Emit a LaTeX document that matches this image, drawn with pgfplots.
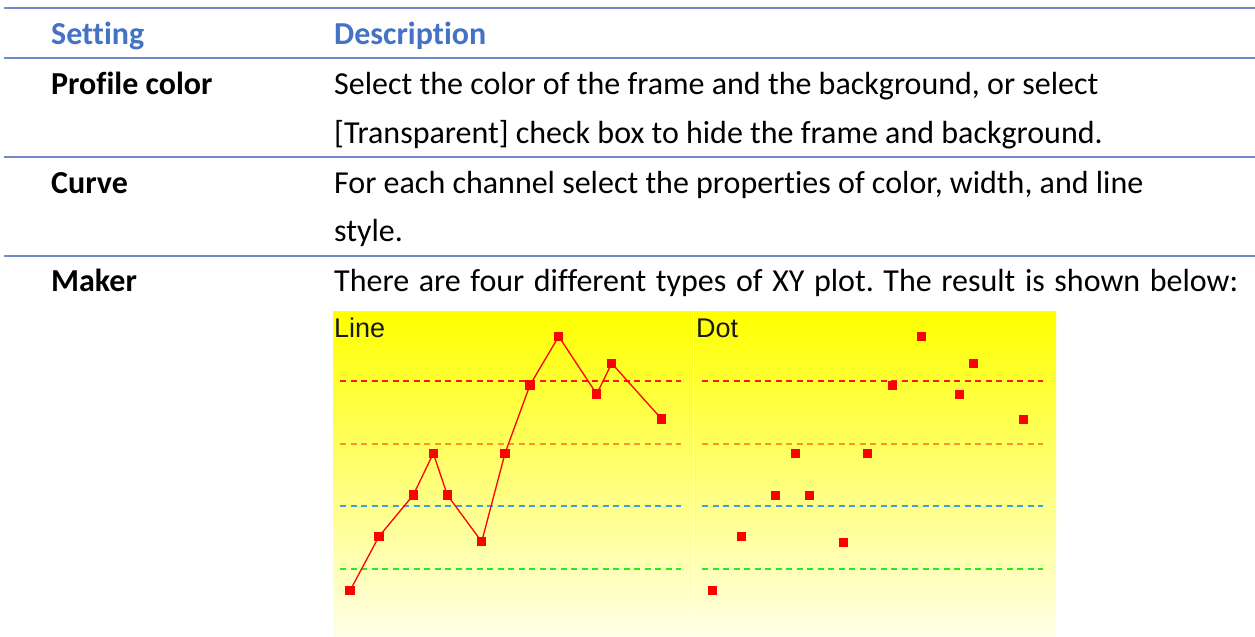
\documentclass[border=0pt]{standalone}
\usepackage{fontspec}
\setmainfont{Carlito}[RawFeature={-liga;-clig;-calt;-dlig}]
\newfontfamily\panelfont{Liberation Sans}
\usepackage{pgfplots}
\pgfplotsset{compat=1.18}
\frenchspacing
\definecolor{rulecol}{RGB}{112,140,200}
\definecolor{headcol}{RGB}{68,114,196}
\definecolor{dred}{RGB}{255,20,20}
\definecolor{dorange}{RGB}{255,145,45}
\definecolor{dblue}{RGB}{60,160,230}
\definecolor{dgreen}{RGB}{30,240,30}
\definecolor{ytop}{RGB}{255,255,0}
\definecolor{ybot}{RGB}{255,255,232}
\definecolor{mred}{RGB}{255,0,0}

% Line panel: x in px from panel left, y in units where dashed levels are 20/40/60/80
\pgfplotstableread{
x y
17 13.1
46 30.4
80.3 43.6
100.3 56.9
114.3 43.6
148.7 28.7
172 56.9
197 78.7
225.7 94.2
263.7 75.8
278.7 85.6
328.7 67.8
}\linedata
\pgfplotstableread{
x y
18 13.1
46.7 30.4
81 43.6
101 56.9
115.3 43.6
149.3 28.7
172.7 56.9
197.7 78.7
226.7 94.2
265 75.8
279.3 85.6
329.3 67.8
}\dotdata

\pgfplotsset{
  panel/.style={
    anchor=north west, scale only axis,
    ymin=-1.69, ymax=101.98,
    axis line style={draw=none}, ticks=none,
    axis background/.style={top color=ytop, bottom color=ybot, draw=none},
    clip=false,
  },
  lev/.style={line width=2bp, dash pattern=on 6bp off 4.5bp, forget plot},
}

\begin{document}
\begin{tikzpicture}[x=1bp,y=1bp]
\useasboundingbox (0,0) rectangle (1255,637);
% table rules (y measured from bottom)
\foreach \yy in {629,579,480,381} {
  \draw[rulecol, line width=2.2bp] (4,\yy) -- (1255,\yy);
}
\tikzset{txt/.style={anchor=base west, inner sep=0pt, font=\fontsize{32bp}{36bp}\selectfont},
         btxt/.style={txt, font=\fontsize{32bp}{36bp}\selectfont\bfseries}}
\node[btxt, text=headcol] at (51,592) {Setting};
\node[btxt, text=headcol] at (334,592) {Description};
\node[btxt] at (51,542) {Profile color};
\node[txt] at (334,542) {Select the color of the frame and the background, or select};
\node[txt] at (334,493.5) {[Transparent] check box to hide the frame and background.};
\node[btxt] at (51,443.5) {Curve};
\node[txt] at (334,443.5) {For each channel select the properties of color, width, and line};
\node[txt] at (334,395.5) {style.};
\node[btxt] at (51,345) {Maker};
\node[txt] at (334,345) {\makebox[904bp][s]{There are four different types of XY plot. The result is shown below:}};

% Line panel
\begin{axis}[panel, at={(333bp,325bp)}, width=360bp, height=325bp, xmin=0, xmax=360]
\addplot[lev, dred] coordinates {(7,80) (348,80)};
\addplot[lev, dorange] coordinates {(7,60) (348,60)};
\addplot[lev, dblue] coordinates {(7,40) (348,40)};
\addplot[lev, dgreen] coordinates {(7,20) (348,20)};
\addplot[mred, line width=1.3bp, mark=square*, mark size=4bp, mark options={solid, fill=mred, draw=mred}] table[x=x,y=y] {\linedata};
\end{axis}

% Dot panel
\begin{axis}[panel, at={(694bp,325bp)}, width=362bp, height=325bp, xmin=0, xmax=362]
\addplot[lev, dred] coordinates {(8,80) (349,80)};
\addplot[lev, dorange] coordinates {(8,60) (349,60)};
\addplot[lev, dblue] coordinates {(8,40) (349,40)};
\addplot[lev, dgreen] coordinates {(8,20) (349,20)};
\addplot[only marks, mark=square*, mark size=4bp, mark options={fill=mred, draw=mred}] table[x=x,y=y] {\dotdata};
\end{axis}

\node[anchor=base west, inner sep=0pt, font=\panelfont\fontsize{27bp}{30bp}\selectfont, text=black!90] at (334,299) {Line};
\node[anchor=base west, inner sep=0pt, font=\panelfont\fontsize{27bp}{30bp}\selectfont, text=black!90] at (696,299) {Dot};
\end{tikzpicture}
\end{document}
